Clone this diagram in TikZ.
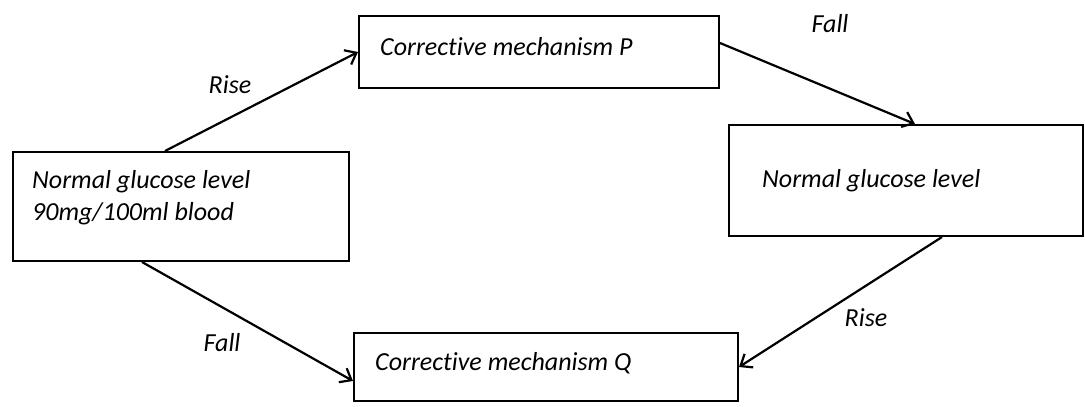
\documentclass[tikz,border=0pt]{standalone}
\usepackage{fontspec}
\setmainfont{Carlito}[Ligatures={NoCommon}]
\usetikzlibrary{arrows.meta}
\begin{document}
\begin{tikzpicture}[x=1pt,y=-1pt,
  box/.style={draw, line width=2pt, inner sep=0pt, anchor=north west},
  txt/.style={font=\fontsize{26}{30}\selectfont\itshape, inner sep=0pt, anchor=base west},
  lbl/.style={font=\fontsize{26}{30}\selectfont\itshape, inner sep=0pt},
  conn/.style={line width=2.2pt, -{Straight Barb[length=10pt,width=16pt,line width=2.2pt]}}]
\useasboundingbox (0,0) rectangle (1085,407);
% boxes
\node[box, minimum width=336pt, minimum height=109pt] (A) at (12,151) {};
\node[box, minimum width=360pt, minimum height=72pt] (P) at (358,15) {};
\node[box, minimum width=354pt, minimum height=111pt] (N) at (728,124) {};
\node[box, minimum width=384pt, minimum height=68pt] (Q) at (353,332) {};
% box texts
\node[txt] (A1) at (32,188) {Normal glucose level};
\node[txt] (A2) at (32,220) {90mg/100ml blood};
\node[txt] (Pt) at (380,55) {Corrective mechanism P};
\node[txt] (Nt) at (762,187) {Normal glucose level};
\node[txt] (Qt) at (375,370) {Corrective mechanism Q};
% connectors
\draw[conn] ([xshift=153pt]A.north west) -- (P.west);
\draw[conn] ([yshift=9pt]P.east) -- ([xshift=187pt]N.north west);
\draw[conn] ([xshift=214pt]N.south west) -- (Q.east);
\draw[conn] ([xshift=130pt]A.south west) -- ([yshift=-14pt]Q.west);
% labels
\node[lbl] (r1) at (230,85) {Rise};
\node[lbl] (f1) at (830,24) {Fall};
\node[lbl] (r2) at (866,318) {Rise};
\node[lbl] (f2) at (222,343) {Fall};
\end{tikzpicture}
\end{document}
